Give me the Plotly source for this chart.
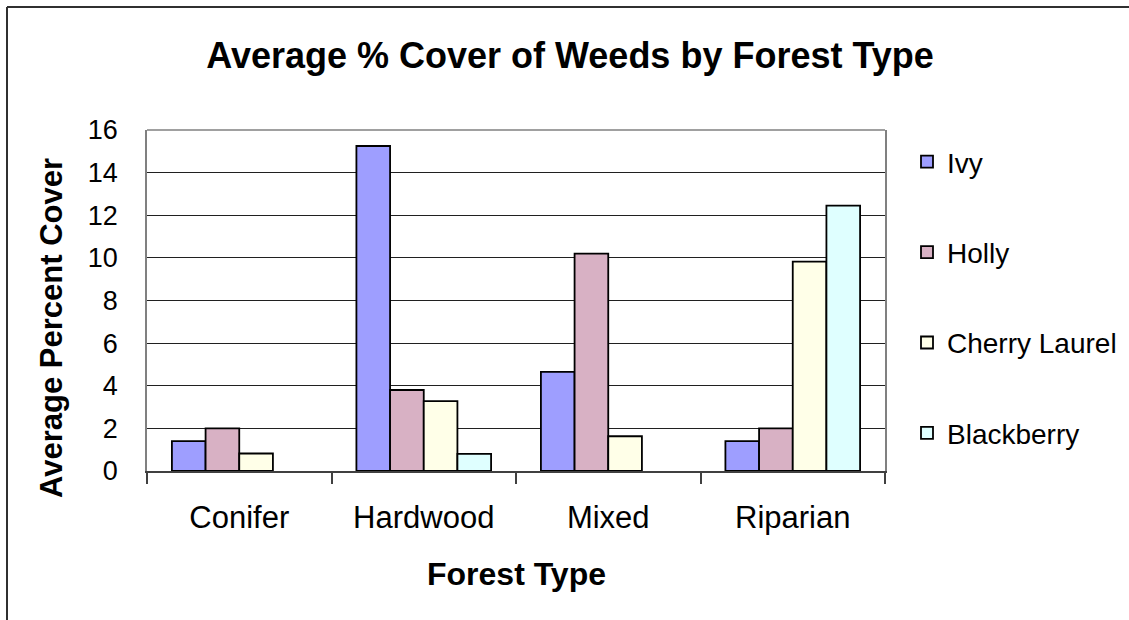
import plotly.graph_objects as go

categories = ["Conifer", "Hardwood", "Mixed", "Riparian"]
ivy = [1.4, 15.25, 4.65, 1.4]
holly = [2.0, 3.8, 10.2, 2.0]
cherry_laurel = [0.82, 3.28, 1.63, 9.82]
blackberry = [None, 0.8, None, 12.45]

series_names = ["Ivy", "Holly", "Cherry Laurel", "Blackberry"]
series_values = [ivy, holly, cherry_laurel, blackberry]
series_colors = ["#9E9EFF", "#D8B1C4", "#FFFFE8", "#DFFFFF"]
y_ticks = [0, 2, 4, 6, 8, 10, 12, 14, 16]

W, H = 1129, 620
ML, MR, MT, MB = 147, 244, 130, 149
PW = W - ML - MR
PH = H - MT - MB

fig = go.Figure()
for i, (name, vals, col) in enumerate(zip(series_names, series_values, series_colors)):
    fig.add_trace(go.Bar(
        x=categories, y=vals, name=name, legendgroup=name,
        marker=dict(color=col, line=dict(color="#000000", width=1.8)),
    ))

font_family = "Liberation Sans, Arial, sans-serif"

def px_x(p):
    return (p - ML) / PW

def px_y(p):
    return 1 - (p - MT) / PH

fig.update_layout(
    width=W, height=H,
    margin=dict(l=ML, r=MR, t=MT, b=MB, autoexpand=False),
    paper_bgcolor="white", plot_bgcolor="white",
    barmode="group", bargap=0.27, bargroupgap=0,
    font=dict(family=font_family, color="#000000"),
    title=dict(text="<b>Average % Cover of Weeds by Forest Type</b>",
               font=dict(size=36, family=font_family, color="#000000"),
               x=570 / W, xref="container", xanchor="center",
               y=1 - 55 / H, yref="container", yanchor="middle"),
    xaxis=dict(
        showline=True, linecolor="#404040", linewidth=1.5, mirror=False,
        ticks="outside", tickson="boundaries", ticklen=11, tickcolor="#404040", tickwidth=1.5,
        tickfont=dict(size=31), ticklabelstandoff=18,
        showgrid=False, automargin=False,
    ),
    yaxis=dict(
        range=[0, 16], tickvals=y_ticks, ticktext=[str(v) for v in y_ticks],
        showline=True, linecolor="#808080", linewidth=1.5, mirror=True,
        showgrid=True, gridcolor="#202020", gridwidth=1, zeroline=False,
        ticks="", tickfont=dict(size=27), ticklabelstandoff=22, automargin=False,
    ),
    legend=dict(
        x=px_x(907), xanchor="left", y=px_y(137), yanchor="top",
        font=dict(size=28), tracegroupgap=51, bgcolor="rgba(0,0,0,0)",
    ),
    showlegend=True,
)

# plot border top line (gray)
fig.add_shape(type="line", xref="paper", yref="paper", x0=0, x1=1, y0=1, y1=1,
              line=dict(color="#808080", width=1.5))
# outer chart frame (top and left)
fig.add_shape(type="line", xref="paper", yref="paper", x0=px_x(7), x1=px_x(1135),
              y0=px_y(7), y1=px_y(7), line=dict(color="#303030", width=2))
fig.add_shape(type="line", xref="paper", yref="paper", x0=px_x(7), x1=px_x(7),
              y0=px_y(7), y1=px_y(630), line=dict(color="#303030", width=2))

fig.add_annotation(text="<b>Forest Type</b>", xref="paper", yref="paper",
                   x=px_x(516), y=px_y(574), showarrow=False,
                   font=dict(size=32, family=font_family, color="#000000"),
                   xanchor="center", yanchor="middle")
fig.add_annotation(text="<b>Average Percent Cover</b>", xref="paper", yref="paper",
                   x=px_x(51), y=px_y(328), showarrow=False, textangle=-90,
                   font=dict(size=31, family=font_family, color="#000000"),
                   xanchor="center", yanchor="middle")

fig.write_html("out.html")
